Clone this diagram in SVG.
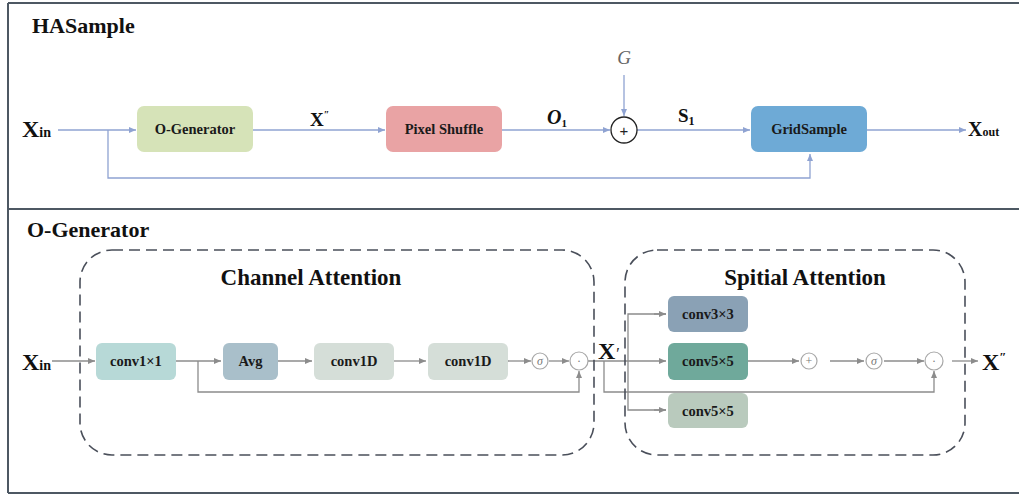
<svg xmlns="http://www.w3.org/2000/svg" width="1019" height="495" viewBox="0 0 1019 495">
<style>
.frame{stroke:#4d5863;stroke-width:2;fill:none}
.title{font-family:"Liberation Serif","Times New Roman","DejaVu Serif",serif;font-weight:bold;font-size:22px;fill:#111}
.lbl{font-family:"Liberation Serif","Times New Roman","DejaVu Serif",serif;font-weight:bold;fill:#111}
.box{stroke:none}
.bt{font-family:"Liberation Serif","Times New Roman","DejaVu Serif",serif;font-weight:bold;font-size:14.5px;fill:#1a1a1a;text-anchor:middle}
.cb{stroke:#8fa3d2;stroke-width:1.3;fill:none}
.cg{stroke:#8c8c8c;stroke-width:1.3;fill:none}
.dash{stroke:#4a4f5a;stroke-width:1.6;fill:none;stroke-dasharray:11 6}
.sc{fill:#fff;stroke:#a8a8a8;stroke-width:1.2}
.st{font-family:"Liberation Serif","Times New Roman",serif;font-size:12px;fill:#777;text-anchor:middle}
</style>
<defs>
<marker id="ab" markerWidth="8" markerHeight="8" refX="7" refY="4" orient="auto" markerUnits="userSpaceOnUse"><path d="M0,1 L7,4 L0,7 Z" fill="#8fa3d2"/></marker>
<marker id="ag" markerWidth="8" markerHeight="8" refX="7" refY="4" orient="auto" markerUnits="userSpaceOnUse"><path d="M0,1 L7,4 L0,7 Z" fill="#8c8c8c"/></marker>
</defs>
<rect x="0" y="0" width="1019" height="495" fill="#fff"/>
<g id="frames">
<line class="frame" x1="8" y1="3" x2="1019" y2="3"/>
<line class="frame" x1="8" y1="209" x2="1019" y2="209"/>
<line class="frame" x1="8" y1="493" x2="1019" y2="493"/>
<line class="frame" x1="8" y1="3" x2="8" y2="493"/>
</g>
<text class="title" x="32" y="33">HASample</text>
<text class="title" x="27" y="237">O-Generator</text>

<g id="connectors">
<line class="cb" x1="58" y1="130" x2="136" y2="130" marker-end="url(#ab)"/>
<polyline class="cb" points="108,130 108,178 810,178 810,154" marker-end="url(#ab)"/>
<line class="cb" x1="253" y1="130" x2="385" y2="130" marker-end="url(#ab)"/>
<line class="cb" x1="502" y1="130" x2="610" y2="130" marker-end="url(#ab)"/>
<line class="cb" x1="624" y1="75" x2="624" y2="116" marker-end="url(#ab)"/>
<line class="cb" x1="637" y1="130" x2="750" y2="130" marker-end="url(#ab)"/>
<line class="cb" x1="867" y1="130" x2="966" y2="130" marker-end="url(#ab)"/>

<line class="cg" x1="52" y1="361" x2="95" y2="361" marker-end="url(#ag)"/>
<line class="cg" x1="176" y1="361" x2="221" y2="361" marker-end="url(#ag)"/>
<polyline class="cg" points="198,361 198,392 579,392 579,371" marker-end="url(#ag)"/>
<line class="cg" x1="278" y1="361" x2="312" y2="361" marker-end="url(#ag)"/>
<line class="cg" x1="394" y1="361" x2="426" y2="361" marker-end="url(#ag)"/>
<line class="cg" x1="508" y1="361" x2="531" y2="361" marker-end="url(#ag)"/>
<line class="cg" x1="549" y1="361" x2="569" y2="361" marker-end="url(#ag)"/>
<line class="cg" x1="588" y1="361" x2="666" y2="361" marker-end="url(#ag)"/>
<polyline class="cg" points="604,361 604,392 934,392 934,371" marker-end="url(#ag)"/>
<polyline class="cg" points="666,314 628,314 628,410 666,410"/>
<line class="cg" x1="654" y1="314" x2="666" y2="314" marker-end="url(#ag)"/>
<line class="cg" x1="654" y1="410" x2="666" y2="410" marker-end="url(#ag)"/>
<line class="cg" x1="748" y1="361" x2="799" y2="361" marker-end="url(#ag)"/>
<line class="cg" x1="830" y1="361" x2="864" y2="361" marker-end="url(#ag)"/>
<line class="cg" x1="884" y1="361" x2="924" y2="361" marker-end="url(#ag)"/>
<line class="cg" x1="952" y1="361" x2="978" y2="361" marker-end="url(#ag)"/>
</g>

<g id="n-xin-top"><text class="lbl" x="22" y="137" font-size="24">X<tspan font-size="14">in</tspan></text></g>
<g id="n-ogen"><rect class="box" x="137" y="106" width="116" height="46" rx="7" fill="#d6e3b8"/><text class="bt" x="195" y="134">O-Generator</text></g>
<g id="n-xpp-top"><text class="lbl" x="310" y="126" font-size="19">X<tspan font-size="10" dy="-8">″</tspan></text></g>
<g id="n-pixel"><rect class="box" x="386" y="106" width="116" height="46" rx="7" fill="#e9a3a4"/><text class="bt" x="444" y="134">Pixel Shuffle</text></g>
<g id="n-o1"><text class="lbl" x="547" y="124" font-size="20" font-style="italic">O<tspan font-size="11" dy="3" font-style="normal">1</tspan></text></g>
<g id="n-g"><text x="624" y="64" font-family="Liberation Serif,serif" font-style="italic" font-size="19" fill="#666" text-anchor="middle">G</text></g>
<g id="n-plus-top"><circle cx="624" cy="130" r="13" fill="#fff" stroke="#222" stroke-width="1.3"/><text x="624" y="135.5" font-family="Liberation Sans,sans-serif" font-size="15" fill="#222" text-anchor="middle">+</text></g>
<g id="n-s1"><text class="lbl" x="678" y="122" font-size="19">S<tspan font-size="12" dy="3">1</tspan></text></g>
<g id="n-grid"><rect class="box" x="751" y="106" width="116" height="46" rx="7" fill="#6eaad6"/><text class="bt" x="809" y="134" fill="#1b2b3a">GridSample</text></g>
<g id="n-xout"><text class="lbl" x="968" y="136" font-size="20">X<tspan font-size="12">out</tspan></text></g>

<g id="g-channel"><rect class="dash" x="80" y="250" width="514" height="205" rx="32"/><text class="lbl" x="311" y="285" font-size="23" text-anchor="middle">Channel Attention</text></g>
<g id="g-spatial"><rect class="dash" x="625" y="250" width="340" height="205" rx="32"/><text class="lbl" x="805" y="285" font-size="23" text-anchor="middle">Spitial Attention</text></g>

<g id="n-xin-bot"><text class="lbl" x="22" y="370" font-size="24">X<tspan font-size="14">in</tspan></text></g>
<g id="n-conv1x1"><rect class="box" x="96" y="343" width="80" height="37" rx="6" fill="#b7d9d7"/><text class="bt" x="136" y="366">conv1×1</text></g>
<g id="n-avg"><rect class="box" x="223" y="343" width="55" height="37" rx="6" fill="#a9bfca"/><text class="bt" x="250.5" y="366">Avg</text></g>
<g id="n-conv1d-a"><rect class="box" x="314" y="343" width="80" height="37" rx="6" fill="#d5ded8"/><text class="bt" x="354" y="366">conv1D</text></g>
<g id="n-conv1d-b"><rect class="box" x="428" y="343" width="80" height="37" rx="6" fill="#d5ded8"/><text class="bt" x="468" y="366">conv1D</text></g>
<g id="n-sig1"><circle class="sc" cx="540" cy="361" r="8"/><text class="st" x="540" y="365" font-style="italic">σ</text></g>
<g id="n-dot1"><circle class="sc" cx="579" cy="361" r="9"/><text class="st" x="579" y="365">·</text></g>
<g id="n-xp"><text class="lbl" x="598" y="359" font-size="24">X<tspan font-size="16" font-weight="normal" font-style="italic">′</tspan></text></g>
<g id="n-conv3x3"><rect class="box" x="668" y="296" width="80" height="36" rx="6" fill="#8aa1b5"/><text class="bt" x="708" y="319">conv3×3</text></g>
<g id="n-conv5x5a"><rect class="box" x="668" y="343" width="80" height="37" rx="6" fill="#6fa99b"/><text class="bt" x="708" y="366">conv5×5</text></g>
<g id="n-conv5x5b"><rect class="box" x="668" y="393" width="80" height="35" rx="6" fill="#b9cabd"/><text class="bt" x="708" y="416">conv5×5</text></g>
<g id="n-plus2"><circle class="sc" cx="809" cy="361" r="8"/><text class="st" x="809" y="365">+</text></g>
<g id="n-sig2"><circle class="sc" cx="874" cy="361" r="8"/><text class="st" x="874" y="365" font-style="italic">σ</text></g>
<g id="n-dot2"><circle class="sc" cx="934" cy="361" r="9"/><text class="st" x="934" y="365">·</text></g>
<g id="n-xpp-bot"><text class="lbl" x="982" y="370" font-size="24">X<tspan font-size="13" dy="-9">″</tspan></text></g>
</svg>
